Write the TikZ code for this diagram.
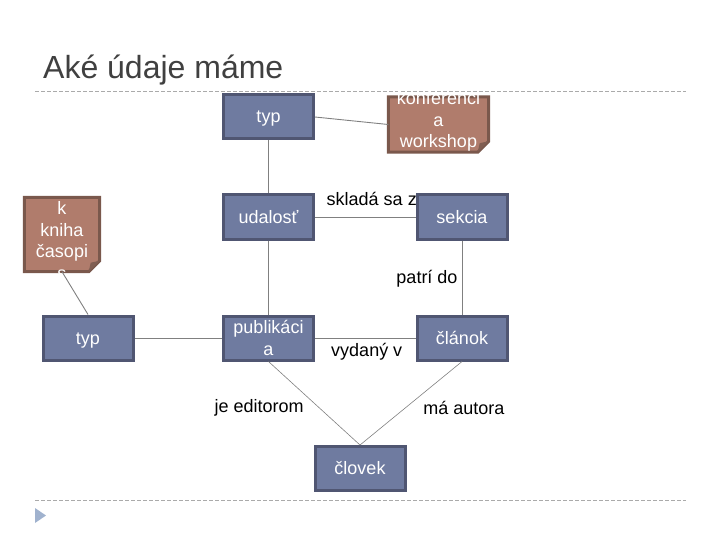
\documentclass[tikz,border=0pt]{standalone}
\usepackage{fontspec}
\setmainfont{Liberation Sans}
\usetikzlibrary{positioning}
\definecolor{entfill}{RGB}{111,123,160}
\definecolor{entline}{RGB}{80,86,114}
\definecolor{notefill}{RGB}{176,124,108}
\definecolor{noteline}{RGB}{122,88,76}
\definecolor{noteflap}{RGB}{128,94,82}
\definecolor{edgecol}{RGB}{128,128,128}
\definecolor{titlecol}{RGB}{64,64,64}
\definecolor{rulecol}{RGB}{170,170,170}
\definecolor{tricol}{RGB}{160,178,206}
\tikzset{
  entb/.style={draw=entline,line width=3pt,fill=entfill,text=white,align=center,
              minimum width=90pt,minimum height=44pt,inner sep=1pt,
              font=\fontsize{18}{21.5}\selectfont},
  ent/.style={entb,text height=16pt,text depth=4pt},
  notebox/.style={minimum width=#1,inner sep=0pt},
  notetxt/.style={text=white,align=center,inner sep=0pt,
                  font=\fontsize{18}{21.5}\selectfont},
  ln/.style={draw=edgecol,line width=.9pt},
  lbl/.style={font=\fontsize{18}{21.5}\selectfont,inner sep=0pt},
  hdr/.style={font=\fontsize{32}{38}\selectfont,text=titlecol,inner sep=0pt},
  rul/.style={draw=rulecol,line width=.8pt,dash pattern=on 4pt off 2pt},
}
% folded note behind a named box
\newcommand\foldnote[1]{%
  \filldraw[fill=notefill,draw=noteline,line width=3pt,line join=miter]
    (#1.north west) -- (#1.north east) -- ([yshift=11pt]#1.south east)
    -- ([xshift=-11pt]#1.south east) -- (#1.south west) -- cycle;
  \fill[noteflap] ([yshift=11pt]#1.south east) -- ([xshift=-11pt]#1.south east)
    -- ([xshift=-9pt,yshift=9pt]#1.south east) -- cycle;}

\begin{document}
\begin{tikzpicture}[x=1pt,y=-1pt]
  \useasboundingbox (0,0) rectangle (720,540);
  \node[hdr,anchor=base west] (title) at (43,79) {Aké údaje máme};
  \coordinate (r1a) at (35,91);  \coordinate (r1b) at (686,91);
  \coordinate (r2a) at (35,500); \coordinate (r2b) at (686,500);
  \draw[rul] (r1a) -- (r1b);
  \draw[rul] (r2a) -- (r2b);
  \fill[tricol] (35,508) -- (46,515.5) -- (35,523) -- cycle;

  % entities
  \node[ent] (typ)  at (268.5,117) {typ};
  \node[ent] (udal) at (268.5,217) {udalosť};
  \node[ent] (sekc) at (462,217)   {sekcia};
  \node[ent] (typb) at (88,338)    {typ};
  \node[entb] (publ) at (268.5,338) {publikáci\\a};
  \node[ent] (clan) at (462,338)   {článok};
  \node[ent] (clov) at (360,468.5) {človek};

  % notes
  \node[notebox=100pt,minimum height=55pt] (konf) at (438.5,124.5) {};
  \node[notebox=75pt,minimum height=74pt] (knih) at (62,234.5) {};
  \foldnote{konf}
  \foldnote{knih}
  \node[notetxt] (konft) at ([yshift=3pt]konf) {konferenci\\a\\workshop};
  \node[notetxt] (knihta) at ([yshift=-6pt]knih) {k\\kniha\\časopi\\s};

  % connectors
  \draw[ln] (typ.east) -- (konf.west);
  \draw[ln] (typ) -- (udal);
  \draw[ln] (udal) -- node[lbl,xshift=6.5pt,yshift=18pt]{skladá sa z} (sekc);
  \draw[ln] (udal) -- (publ);
  \draw[ln] (sekc) -- node[lbl,xshift=-35pt,yshift=-1.5pt]{patrí do} (clan);
  \draw[ln] (knih.south) -- (typb.north);
  \draw[ln] (typb) -- (publ);
  \draw[ln] (publ) -- node[lbl,xshift=1.5pt,yshift=-14pt]{vydaný v} (clan);
  \draw[ln,line width=.6pt] (publ.south) -- node[lbl,xshift=-55pt,yshift=-5pt]{je editorom} (clov.north);
  \draw[ln,line width=.6pt] (clan.south) -- node[lbl,xshift=53pt,yshift=-5pt]{má autora} (clov.north);
\end{tikzpicture}
\end{document}
